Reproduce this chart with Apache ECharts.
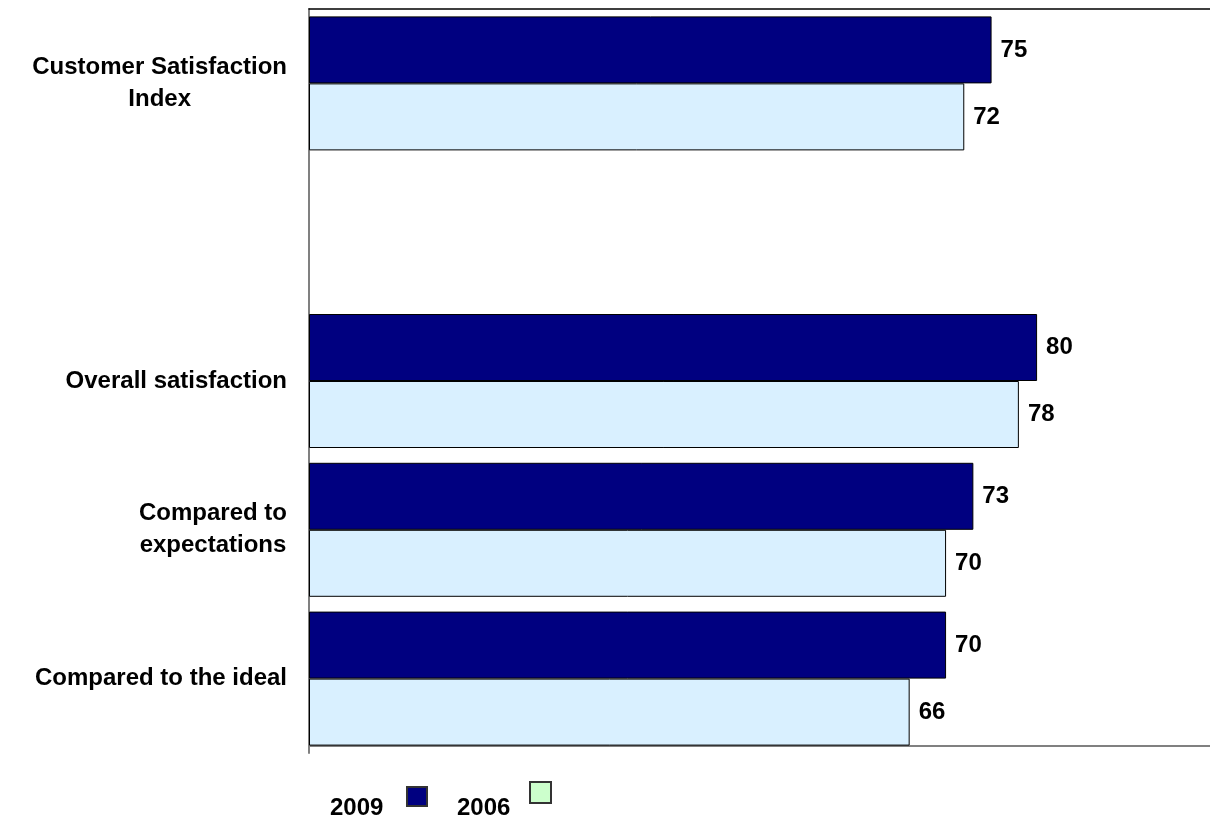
<!DOCTYPE html>
<html>
<head>
<meta charset="utf-8">
<style>
  html, body { margin: 0; padding: 0; background: #fff; }
  #chart { width: 1210px; height: 820px; }
</style>
<script src="https://cdn.jsdelivr.net/npm/echarts@6/dist/echarts.min.js"></script>
</head>
<body>
<div id="chart"></div>
<script>
// Satisfaction scores, 2009 vs 2006 (blank slot separates the index from its components)
const categories = [
  'Customer Satisfaction\nIndex',
  '',
  'Overall satisfaction',
  'Compared to\nexpectations',
  'Compared to the ideal'
];
const seriesNames = ['2009', '2006'];
const values2009 = [75, '-', 80, 73, 70];
const values2006 = [72, '-', 78, 70, 66];
const barColors = ['#000080', '#d9f0ff'];
const legendColors = ['#000080', '#ccffcc'];

const FONT = '"Liberation Sans", Arial, Helvetica, sans-serif';
const X_MAX = 99;

const chart = echarts.init(document.getElementById('chart'), null, { renderer: 'canvas' });

function barSeries(name, data, color) {
  return {
    name: name,
    type: 'bar',
    data: data,
    barWidth: 67,
    barGap: '0%',
    itemStyle: { color: color, borderColor: '#000', borderWidth: 1 },
    label: {
      show: true,
      position: 'right',
      distance: 9,
      color: '#000',
      fontFamily: FONT,
      fontWeight: 'bold',
      fontSize: 24
    },
    emphasis: { disabled: true },
    animation: false
  };
}

const option = {
  backgroundColor: '#fff',
  animation: false,
  grid: { left: 309, right: 0, top: 9, bottom: 67, containLabel: false },
  xAxis: [
    {
      type: 'value', min: 0, max: X_MAX, position: 'bottom', offset: -7,
      axisLine: { show: true, lineStyle: { color: '#808080', width: 2 } },
      axisTick: { show: false }, axisLabel: { show: false }, splitLine: { show: false }
    },
    {
      type: 'value', min: 0, max: X_MAX, position: 'top',
      axisLine: { show: true, lineStyle: { color: '#000', width: 1.5 } },
      axisTick: { show: false }, axisLabel: { show: false }, splitLine: { show: false }
    }
  ],
  yAxis: {
    type: 'category',
    data: categories,
    inverse: true,
    axisLine: { show: true, lineStyle: { color: '#808080', width: 2 } },
    axisTick: { show: false },
    axisLabel: {
      margin: 22,
      align: 'right',
      formatter: function (v) {
        return v.split('\n').map(function (s) { return '{a|' + s + '}'; }).join('\n');
      },
      rich: {
        a: {
          align: 'center',
          fontFamily: FONT,
          fontWeight: 'bold',
          fontSize: 24,
          lineHeight: 32,
          color: '#000'
        }
      }
    }
  },
  series: [
    barSeries(seriesNames[0], values2009, barColors[0]),
    barSeries(seriesNames[1], values2006, barColors[1])
  ],
  graphic: [
    { type: 'text', left: 330, top: 796, style: { text: seriesNames[0], font: 'bold 24px ' + FONT, fill: '#000' } },
    { type: 'rect', shape: { x: 407, y: 787, width: 20, height: 19 },
      style: { fill: legendColors[0], stroke: '#333', lineWidth: 2 } },
    { type: 'text', left: 457, top: 796, style: { text: seriesNames[1], font: 'bold 24px ' + FONT, fill: '#000' } },
    { type: 'rect', shape: { x: 530, y: 782, width: 21, height: 21 },
      style: { fill: legendColors[1], stroke: '#333', lineWidth: 2 } }
  ]
};

chart.setOption(option);
</script>
</body>
</html>
